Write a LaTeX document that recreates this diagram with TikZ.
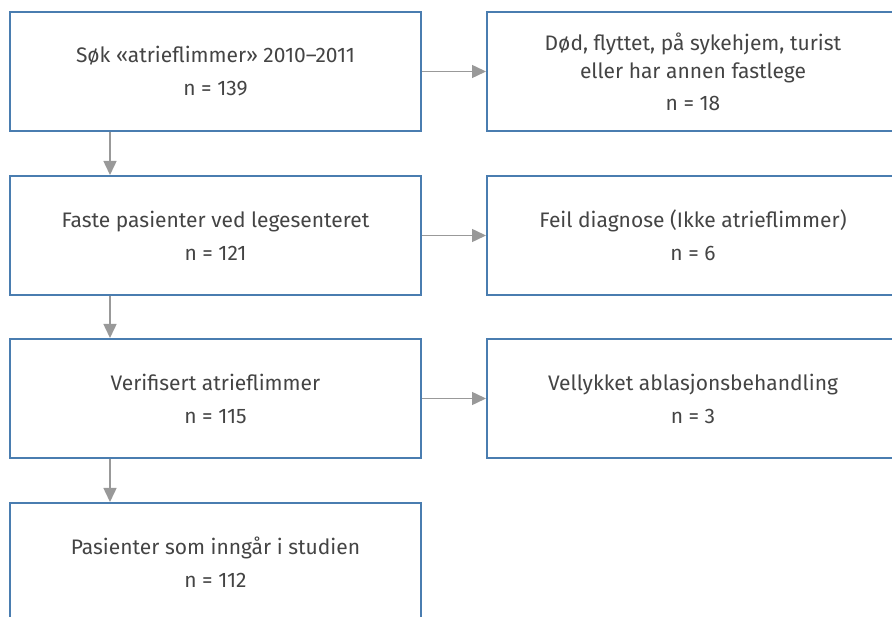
\documentclass[tikz,border=0pt]{standalone}
\usepackage{fontspec}
\setmainfont{Fira Sans}
\usetikzlibrary{arrows.meta}
\definecolor{boxblue}{HTML}{4A7DB0}
\definecolor{txtgray}{HTML}{444444}
\definecolor{arrgray}{HTML}{999999}
\tikzset{
  flowbox/.style={draw=boxblue, line width=2pt, rectangle, minimum width=411pt, minimum height=119pt,
    inner sep=0pt, align=center, text=txtgray, font=\fontsize{21}{33}\selectfont},
  flowarr/.style={draw=arrgray, line width=1.5pt, -{Triangle[length=14pt,width=13pt]}}
}
\begin{document}
\begin{tikzpicture}[x=1pt,y=-1pt]
\useasboundingbox (0,0) rectangle (892,617);
\clip (0,0) rectangle (892,617);
\node[flowbox] (b1) at (215.5,71.5) {Søk «atrieflimmer» 2010–2011\\n = 139};
\node[flowbox] (b2) at (215.5,235.5) {Faste pasienter ved legesenteret\\n = 121};
\node[flowbox] (b3) at (215.5,398.5) {Verifisert atrieflimmer\\n = 115};
\node[flowbox] (b4) at (215.5,562.5) {Pasienter som inngår i studien\\n = 112};
\node[flowbox, minimum width=412pt, font=\fontsize{21}{28}\selectfont] (r1) at (693,71.5) {Død, flyttet, på sykehjem, turist\\eller har annen fastlege\\[4pt]n = 18};
\node[flowbox, minimum width=412pt] (r2) at (693,235.5) {Feil diagnose (Ikke atrieflimmer)\\n = 6};
\node[flowbox, minimum width=412pt] (r3) at (693,398.5) {Vellykket ablasjonsbehandling\\n = 3};
\draw[flowarr] ([xshift=101pt]b1.south west) -- ([xshift=101pt]b2.north west);
\draw[flowarr] ([xshift=101pt]b2.south west) -- ([xshift=101pt]b3.north west);
\draw[flowarr] ([xshift=101pt]b3.south west) -- ([xshift=101pt]b4.north west);
\draw[flowarr] (b1.east) -- (r1.west);
\draw[flowarr] (b2.east) -- (r2.west);
\draw[flowarr] (b3.east) -- (r3.west);
\end{tikzpicture}
\end{document}
